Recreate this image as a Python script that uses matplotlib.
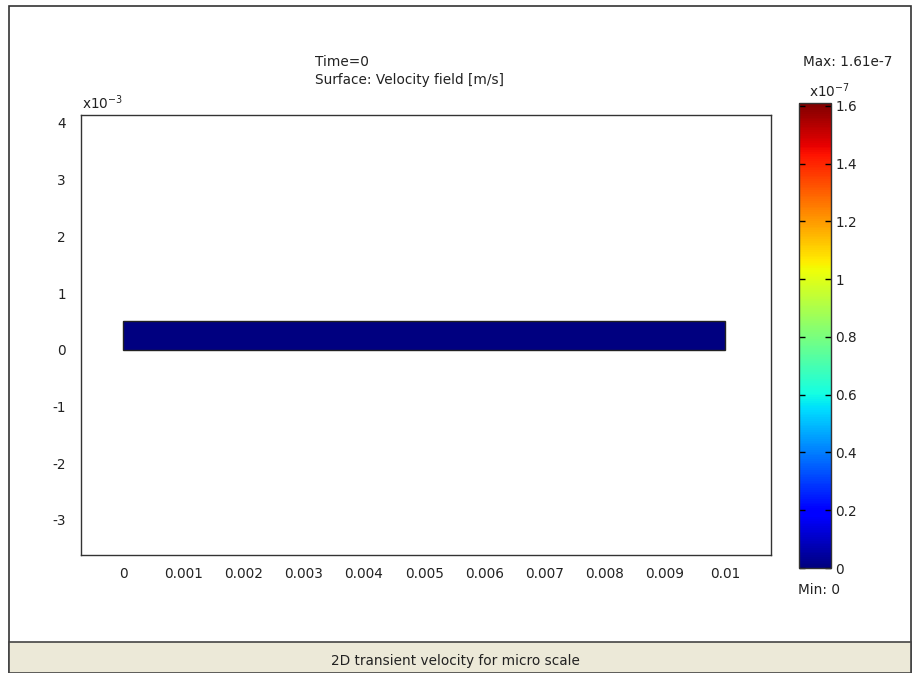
import numpy as np
import matplotlib
matplotlib.use("Agg")
import matplotlib.pyplot as plt
from matplotlib.patches import Rectangle

# Domain geometry (m) and the velocity field at Time=0
domain_x = [0.0, 0.01]
domain_y = [0.0, 0.0005]
velocity = np.zeros((4, 40))
vel_min, vel_max = 0.0, 1.61e-7

x_ticks = [0, 0.001, 0.002, 0.003, 0.004, 0.005, 0.006, 0.007, 0.008, 0.009, 0.01]
x_tick_labels = ["0", "0.001", "0.002", "0.003", "0.004", "0.005", "0.006",
                 "0.007", "0.008", "0.009", "0.01"]
y_ticks = [-3, -2, -1, 0, 1, 2, 3, 4]
cbar_ticks = [0, 0.2, 0.4, 0.6, 0.8, 1.0, 1.2, 1.4, 1.6]
cbar_tick_labels = ["0", "0.2", "0.4", "0.6", "0.8", "1", "1.2", "1.4", "1.6"]

W, H = 913, 673
fig = plt.figure(figsize=(W / 100, H / 100), dpi=100)
plt.rcParams['font.family'] = ['DejaVu Sans']
FS = 9.8
TXT = "#222222"


def fx(px):
    return px / W


def fy(py):
    return 1 - py / H


# Outer frame and status bar
fig.patches.append(Rectangle((fx(9), fy(673)), fx(911) - fx(9), fy(6) - fy(673),
                             transform=fig.transFigure, facecolor="white",
                             edgecolor="#333333", linewidth=1.2, zorder=-5))
fig.patches.append(Rectangle((fx(9), fy(673)), fx(911) - fx(9), fy(642) - fy(673),
                             transform=fig.transFigure, facecolor="#ECE9D8",
                             edgecolor="#444444", linewidth=1.2, zorder=-4))
fig.text(fx(455), fy(661), "2D transient velocity for micro scale", ha="center",
         va="center", fontsize=FS, color=TXT)

# Main axes
ax = fig.add_axes([fx(81), fy(555), fx(771) - fx(81), fy(115) - fy(555)])
ax.set_xlim(-0.0007, 0.01076)
ax.set_ylim(-3.62, 4.14)

xs = np.linspace(domain_x[0], domain_x[1], velocity.shape[1] + 1)
ys = np.linspace(domain_y[0], domain_y[1], velocity.shape[0] + 1) * 1e3
mesh = ax.pcolormesh(xs, ys, velocity, cmap="jet", vmin=vel_min, vmax=vel_max,
                     shading="flat")
ax.add_patch(Rectangle((domain_x[0], domain_y[0] * 1e3), domain_x[1] - domain_x[0],
                       (domain_y[1] - domain_y[0]) * 1e3, facecolor="none",
                       edgecolor="#222222", linewidth=1.0))

ax.set_xticks(x_ticks)
ax.set_xticklabels(x_tick_labels)
ax.set_yticks(y_ticks)
ax.set_yticklabels([str(t) for t in y_ticks])
ax.tick_params(length=0, labelsize=FS, labelcolor=TXT)
ax.tick_params(axis="x", pad=9)
ax.tick_params(axis="y", pad=11)
for s in ax.spines.values():
    s.set_color("#333333")
    s.set_linewidth(1.0)

fig.text(fx(82), fy(103), r"x10$^{-3}$", ha="left", va="center", fontsize=FS,
         color=TXT)

# Titles
fig.text(fx(315), fy(62), "Time=0", ha="left", va="center", fontsize=FS, color=TXT)
fig.text(fx(315), fy(80), "Surface: Velocity field [m/s]", ha="left", va="center",
         fontsize=FS, color=TXT)

# Colorbar
cax = fig.add_axes([fx(799), fy(568), fx(831) - fx(799), fy(103) - fy(568)])
sm = matplotlib.cm.ScalarMappable(cmap="jet",
                                  norm=matplotlib.colors.Normalize(vel_min * 1e7, vel_max * 1e7))
cb = fig.colorbar(sm, cax=cax)
cb.set_ticks(cbar_ticks)
cb.set_ticklabels(cbar_tick_labels)
cax.tick_params(direction="in", length=4, width=1, labelsize=FS, labelcolor=TXT,
                left=True, right=True, pad=3)
cb.outline.set_edgecolor("#333333")
cb.outline.set_linewidth(1.0)

fig.text(fx(848), fy(62), "Max: 1.61e-7", ha="center", va="center", fontsize=FS,
         color=TXT)
fig.text(fx(809), fy(91), r"x10$^{-7}$", ha="left", va="center", fontsize=FS,
         color=TXT)
fig.text(fx(798), fy(590), "Min: 0", ha="left", va="center", fontsize=FS,
         color=TXT)

fig.savefig("out.png", dpi=100)
